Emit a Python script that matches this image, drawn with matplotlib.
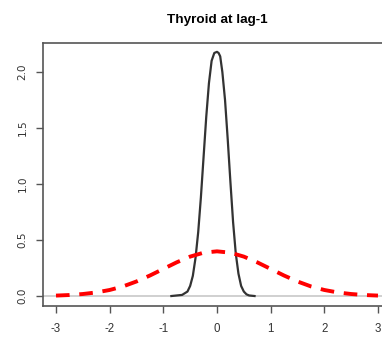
import matplotlib
matplotlib.use("Agg")
import matplotlib.pyplot as plt

# density estimate of the lag-1 residuals
dens_x = [-0.85, -0.75, -0.65, -0.55, -0.5, -0.45, -0.4, -0.35, -0.3, -0.25, -0.2, -0.15,
          -0.1, -0.05, 0.0, 0.03, 0.06, 0.1, 0.15, 0.2, 0.25, 0.3, 0.35, 0.4, 0.45,
          0.5, 0.55, 0.6, 0.7]
dens_y = [0.0, 0.005, 0.01, 0.04, 0.09, 0.18, 0.34, 0.57, 0.88, 1.24, 1.6, 1.9,
          2.1, 2.17, 2.18, 2.17, 2.14, 2.0, 1.75, 1.4, 1.02, 0.66, 0.38, 0.2, 0.09,
          0.04, 0.015, 0.005, 0.0]

# reference normal curve
norm_x = [-3.0, -2.75, -2.5, -2.25, -2.0, -1.75, -1.5, -1.25, -1.0, -0.75, -0.5, -0.25,
          0.0, 0.25, 0.5, 0.75, 1.0, 1.25, 1.5, 1.75, 2.0, 2.25, 2.5, 2.75, 3.0]
norm_y = [0.004, 0.009, 0.018, 0.032, 0.054, 0.086, 0.130, 0.183, 0.242, 0.301, 0.352, 0.387,
          0.399, 0.387, 0.352, 0.301, 0.242, 0.183, 0.130, 0.086, 0.054, 0.032, 0.018, 0.009, 0.004]

x_ticks = [-3, -2, -1, 0, 1, 2, 3]
y_ticks = [0.0, 0.5, 1.0, 1.5, 2.0]

plt.rcParams["font.family"] = ["Liberation Sans", "DejaVu Sans"]

fig = plt.figure(figsize=(3.82, 3.41), dpi=100)
ax = fig.add_axes([43 / 382, 1 - 306 / 341, 347 / 382, 263 / 341])

ax.axhline(0, color="#c8c8c8", lw=1.2, zorder=1)
ax.plot(dens_x, dens_y, color="#333333", lw=1.6, zorder=2)
ax.plot(norm_x, norm_y, color="#ff0000", lw=2.8, ls=(0, (3.5, 2.5)), zorder=3)

ax.set_xlim(-3.242, 3.224)
ax.set_ylim(-0.089, 2.259)
ax.set_xticks(x_ticks)
ax.set_xticklabels([str(t) for t in x_ticks])
ax.set_yticks(y_ticks)
# rotated labels in DejaVu keep their decimal point at this size
ax.set_yticklabels(["%.1f" % t for t in y_ticks], rotation=90, va="center",
                   family="DejaVu Sans")

for s in ["left", "top", "bottom"]:
    ax.spines[s].set_color("#555555")
    ax.spines[s].set_linewidth(1.2)
ax.spines["right"].set_visible(False)
ax.tick_params(direction="out", length=5, width=1, color="#555555",
               labelcolor="#333333")
ax.tick_params(axis="x", labelsize=8.3, pad=7)
ax.tick_params(axis="y", labelsize=7.5, pad=6)

fig.text(217 / 382, 1 - 20 / 341, "Thyroid at lag-1", ha="center", va="center",
         fontsize=9.7, fontweight="bold")

fig.savefig("out.png", dpi=100)
